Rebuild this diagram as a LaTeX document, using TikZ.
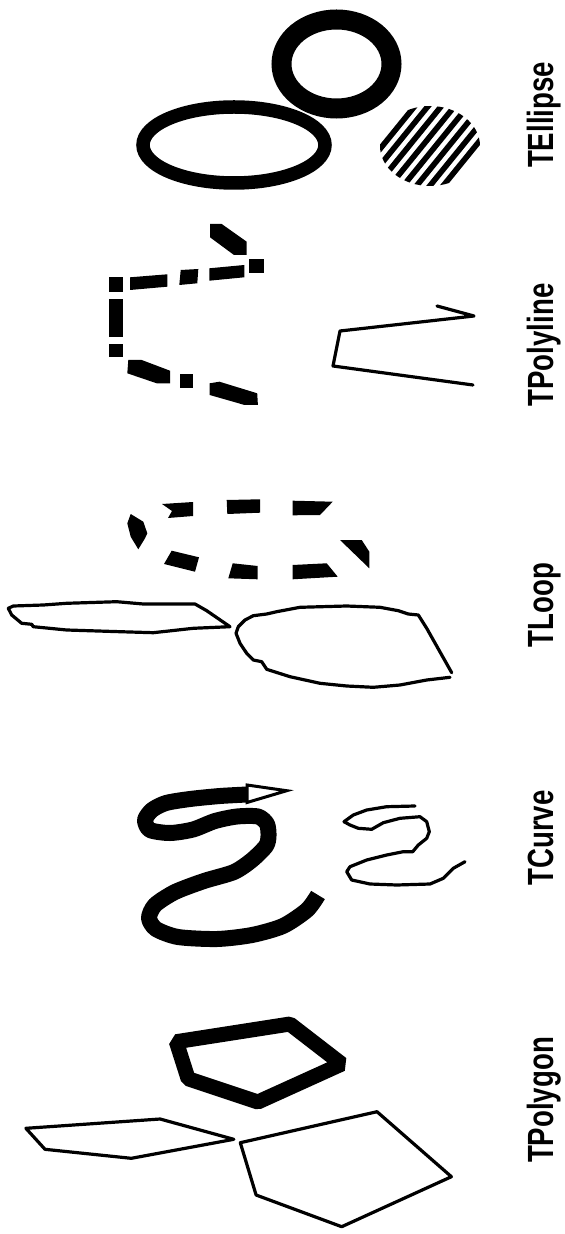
\documentclass[tikz,border=0pt]{standalone}
\usepackage{graphicx}
\usepackage{fontspec}
\setmainfont{Liberation Sans}
\begin{document}
\begin{tikzpicture}[x=0.5pt,y=-0.5pt,
  thinline/.style={line width=1.6pt, line join=round, line cap=round},
  thickcurve/.style={line width=8pt, line join=round},
  piece/.style={fill=black},
  lbl/.style={rotate=90, anchor=base, inner sep=0pt, font=\bfseries\fontsize{13.8}{16}\selectfont}]
\useasboundingbox[fill=white] (0,0) rectangle (564,1234);

% ---------- TEllipse ----------
\draw[line width=10pt] (336.5,64) ellipse [x radius=27.5pt, y radius=22.25pt];
\draw[line width=6.75pt] (234,145) ellipse [x radius=45.5pt, y radius=19pt];
\begin{scope}
  \clip (430,146) ellipse [x radius=25pt, y radius=20pt];
  \foreach \k in {-1,...,6} {
    \pgfmathsetmacro{\xo}{395.7+13.3*\k}
    \draw[line width=2.8pt] ({\xo-0.63*70},{146+0.776*70}) -- ({\xo+0.63*70},{146-0.776*70});
  }
\end{scope}

% ---------- TPolyline (dash-dot, thick) ----------
\fill[piece] (210,224) -- (221.7,224) -- (246.7,241.7) -- (246.7,255) -- (234,255) -- (210,237.3) -- cycle;
\fill[piece] (249.3,259.3) rectangle (264.3,273.3);
\fill[piece] (209.3,268.3) -- (244.3,265) -- (244.3,277.3) -- (209.3,280.7) -- cycle;
\fill[piece] (180.7,270) -- (198.3,269) -- (197.3,283.3) -- (179.3,285) -- cycle;
\fill[piece] (130,277.3) -- (167.3,274.3) -- (167.3,286.7) -- (130,290) -- cycle;
\fill[piece] (109,277.3) rectangle (122.7,291.7);
\fill[piece] (109,299) rectangle (122.7,337.3);
\fill[piece] (109,344) rectangle (122.7,357.3);
\fill[piece] (128.3,360) -- (141.7,360) -- (170,370.7) -- (170,383.3) -- (156.7,383.3) -- (127.3,373.3) -- cycle;
\fill[piece] (180,374.3) rectangle (192.7,388.3);
\fill[piece] (209.7,383.3) -- (219.4,381.7) -- (257.2,393.3) -- (257.9,405) -- (244.6,405) -- (209.7,395) -- cycle;

% thin polyline
\draw[thinline] (437,306) -- (474,316) -- (340,331) -- (333,366) -- (473,385);

% ---------- TLoop (dashed, thick) ----------
\fill[piece] (162,504) -- (193,502) -- (193,516) -- (168,518) -- (172,511) -- cycle;
\fill[piece] (226.7,500) -- (260,499.3) -- (260,512.7) -- (227.3,514) -- cycle;
\fill[piece] (292.7,500.7) -- (332.7,501.7) -- (320,515) -- (292.7,515.3) -- cycle;
\fill[piece] (340,540) -- (361.7,540) -- (369.3,551.7) -- (369.3,568.3) -- cycle;
\fill[piece] (292.7,565) -- (326.7,563.3) -- (337.7,576.7) -- (292.7,579.3) -- cycle;
\fill[piece] (232.7,563.3) -- (257.7,566) -- (257.7,579.3) -- (228.3,578.3) -- cycle;
\fill[piece] (171.7,550.7) -- (199,557.3) -- (195,571.7) -- (164,564) -- cycle;
\fill[piece] (130.7,514) -- (143.3,521.7) -- (147.3,533.3) -- (145,538.3) -- (138.3,549.3) -- (130.7,536.7) -- (127.3,523.3) -- cycle;

% thin loops
\draw[thinline] (8.3,608.3) -- (13.3,606) -- (43.3,605) -- (66.7,603.3) -- (116.7,601.7) -- (143.3,604) -- (195,604) -- (206.7,610.7) -- (230,626.7) -- (193.3,628.3) -- (153.3,632.7) -- (120,631.7) -- (66.7,630) -- (33.3,626.7) -- (31.7,624.3) -- (21.7,623.3) -- (11.7,615) -- cycle;
\draw[thinline] (451.7,672.7) -- (426.7,628.3) -- (418.3,615) -- (408.3,614) -- (398.3,610.7) -- (380,607.3) -- (346.7,606) -- (300,607.3) -- (276.7,611.7) -- (266.7,614) -- (253.3,615.7) -- (245,620) -- (238.3,626.7) -- (236,633.3) -- (240,643.3) -- (246.7,653.3) -- (253.3,660) -- (261.7,661.7) -- (266.7,669.3) -- (290,676.7) -- (320,683.3) -- (346.7,686) -- (373.3,687.3) -- (400,685) -- (426.7,680) -- (450,677.3);

% ---------- TCurve ----------
\draw[thickcurve] plot[smooth, tension=0.45] coordinates {(247,794.5) (220,796) (190,799) (166,803) (152,810) (145,820) (150,830) (170,833) (193,829.5) (215,821) (237,816.5) (258,816.5) (267,824) (268.5,836) (266,846) (252,860) (234,872) (204,881) (175,892) (155,905) (149,918) (156,929) (178,937) (217,939) (252,935) (283,926) (307,910) (318,895)};
\draw[line width=1.5pt, fill=white, line join=miter] (247,785) -- (286.7,790.7) -- (247,802.5) -- cycle;
\draw[thinline] (415,806) -- (386.7,806.7) -- (366.7,810) -- (353.3,815) -- (344,821.7) -- (350,825) -- (358.3,828.3) -- (371.7,829.3) -- (383.3,822.7) -- (400,818.3) -- (420,816.7) -- (426.7,821.7) -- (429.3,831.7) -- (426.7,838.3) -- (418.3,845) -- (412.7,851.7) -- (403.3,851.7) -- (386.7,855) -- (366.7,860) -- (350,866.7) -- (346.7,871.7) -- (351.7,880) -- (370,884) -- (396.7,885) -- (430,884) -- (443.3,878.3) -- (453.3,868.3) -- (465,861.7);

% ---------- TPolygon ----------
\draw[line width=7.5pt, line join=bevel] (176.3,1041.7) -- (289.9,1024) -- (341.7,1064) -- (257.9,1102) -- (188.1,1078.7) -- cycle;
\draw[thinline] (25.9,1128.3) -- (160.1,1119) -- (233.8,1139.3) -- (131.3,1158.3) -- (45,1149.3) -- cycle;
\draw[thinline] (240.3,1142.7) -- (377,1111.7) -- (451.4,1176.7) -- (341.7,1226.7) -- (256.1,1195) -- cycle;

% ---------- labels ----------
\node[lbl] (lEllipse) at (553,115) {\scalebox{1}[1.32]{TEllipse}};
\node[lbl] (lPolyline) at (553,345) {\scalebox{1}[1.32]{TPolyline}};
\node[lbl] (lLoop) at (553,605) {\scalebox{1}[1.32]{TLoop}};
\node[lbl] (lCurve) at (553,838) {\scalebox{1}[1.32]{TCurve}};
\node[lbl] (lPolygon) at (553,1100) {\scalebox{1}[1.32]{TPolygon}};
\end{tikzpicture}
\end{document}
